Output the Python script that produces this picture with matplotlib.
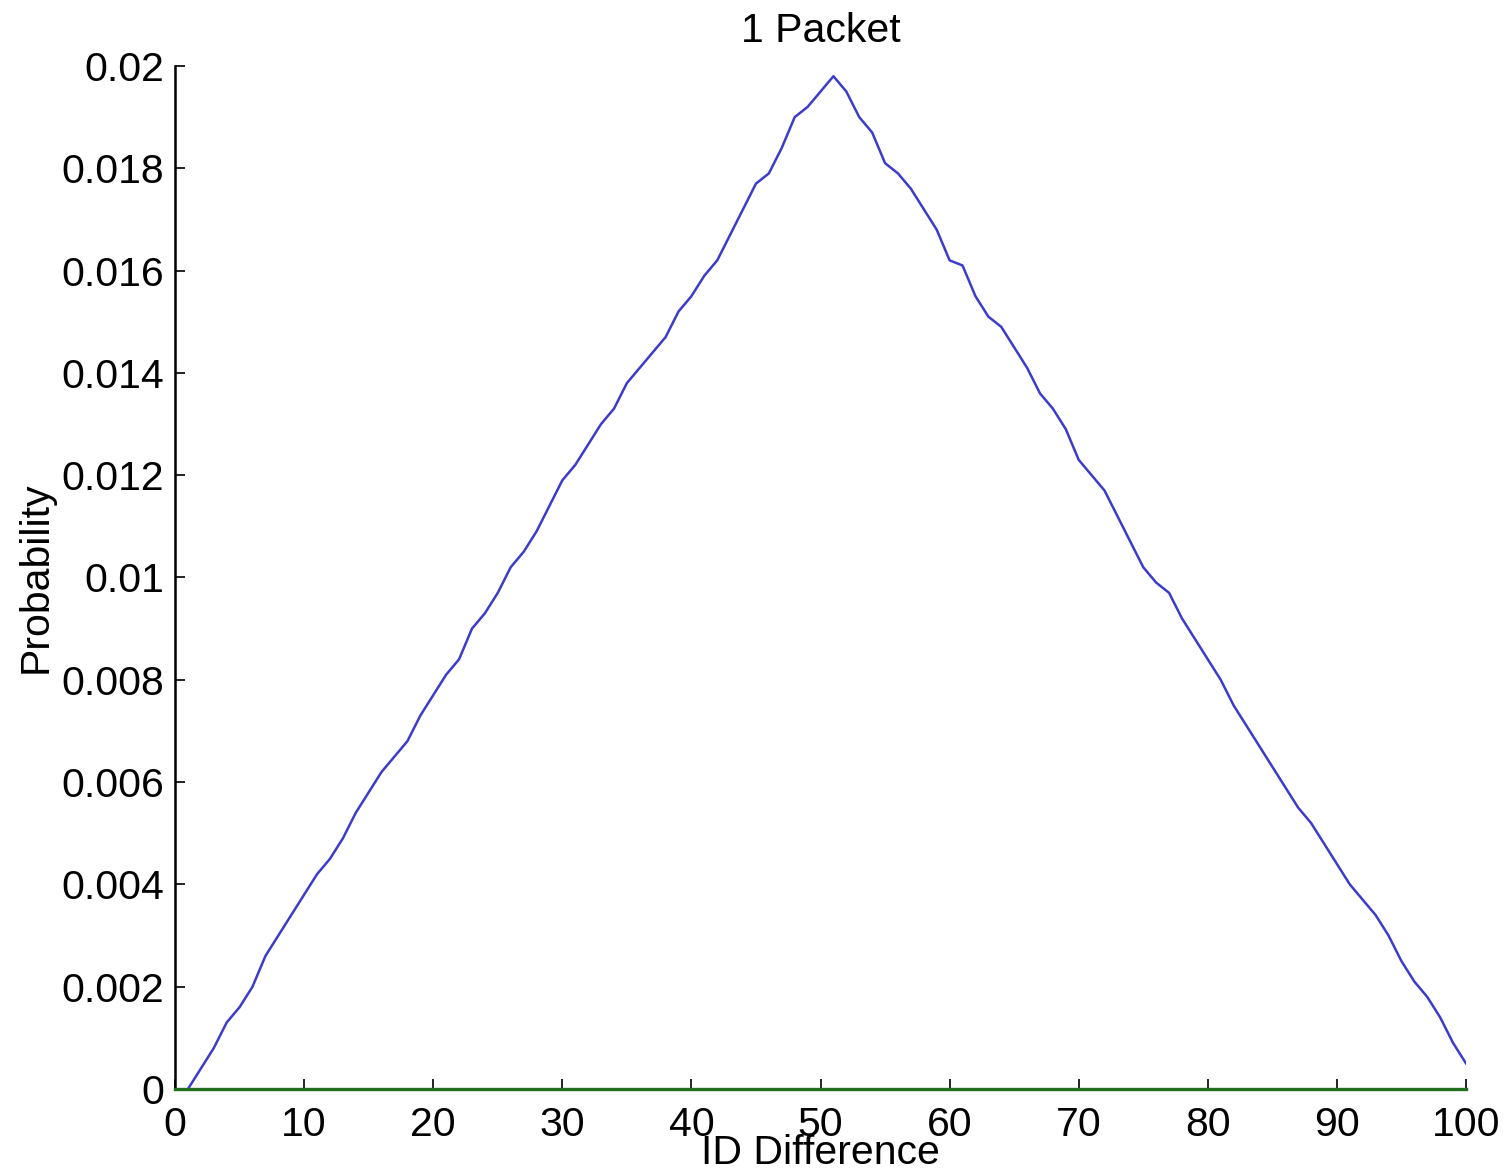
import numpy as np
import matplotlib
matplotlib.use("Agg")
import matplotlib.pyplot as plt

# =========================
# Data
# =========================
id_diff = list(range(1, 101))
probability = [
    0.0000, 0.0004, 0.0008, 0.0013, 0.0016, 0.0020, 0.0026, 0.0030, 0.0034, 0.0038,
    0.0042, 0.0045, 0.0049, 0.0054, 0.0058, 0.0062, 0.0065, 0.0068, 0.0073, 0.0077,
    0.0081, 0.0084, 0.0090, 0.0093, 0.0097, 0.0102, 0.0105, 0.0109, 0.0114, 0.0119,
    0.0122, 0.0126, 0.0130, 0.0133, 0.0138, 0.0141, 0.0144, 0.0147, 0.0152, 0.0155,
    0.0159, 0.0162, 0.0167, 0.0172, 0.0177, 0.0179, 0.0184, 0.0190, 0.0192, 0.0195,
    0.0198, 0.0195, 0.0190, 0.0187, 0.0181, 0.0179, 0.0176, 0.0172, 0.0168, 0.0162,
    0.0161, 0.0155, 0.0151, 0.0149, 0.0145, 0.0141, 0.0136, 0.0133, 0.0129, 0.0123,
    0.0120, 0.0117, 0.0112, 0.0107, 0.0102, 0.0099, 0.0097, 0.0092, 0.0088, 0.0084,
    0.0080, 0.0075, 0.0071, 0.0067, 0.0063, 0.0059, 0.0055, 0.0052, 0.0048, 0.0044,
    0.0040, 0.0037, 0.0034, 0.0030, 0.0025, 0.0021, 0.0018, 0.0014, 0.0009, 0.0005,
]

baseline_x = [0, 100]
baseline_y = [0, 0]

x_ticks = [0, 10, 20, 30, 40, 50, 60, 70, 80, 90, 100]
y_ticks = [0, 0.002, 0.004, 0.006, 0.008, 0.01, 0.012, 0.014, 0.016, 0.018, 0.02]
y_tick_labels = ["0", "0.002", "0.004", "0.006", "0.008", "0.01",
                 "0.012", "0.014", "0.016", "0.018", "0.02"]

# =========================
# Style
# =========================
plt.rcParams.update({
    "font.family": ["Liberation Sans", "DejaVu Sans"],
    "font.size": 29.5,
})

fig = plt.figure(figsize=(15.09, 11.74), dpi=100)
ax = fig.add_axes([0.116, 0.0724, 0.8555, 0.8714])

ax.plot(id_diff, probability, color="#3c3ccc", linewidth=1.8)
ax.plot(baseline_x, baseline_y, color="#1e6e1e", linewidth=2.4, clip_on=False, zorder=3)

ax.set_xlim(0, 100)
ax.set_ylim(0, 0.02)
ax.set_xticks(x_ticks)
ax.set_xticklabels([str(t) for t in x_ticks])
ax.set_yticks(y_ticks)
ax.set_yticklabels(y_tick_labels)

ax.spines["top"].set_visible(False)
ax.spines["right"].set_visible(False)
ax.spines["left"].set_linewidth(1.8)
ax.spines["bottom"].set_linewidth(1.8)

ax.tick_params(axis="both", direction="in", length=7, width=1.4, color="#222222")
ax.tick_params(axis="y", pad=8)
ax.tick_params(axis="x", pad=12)

ax.set_title("1 Packet", fontsize=29.5, pad=17)
ax.set_xlabel("ID Difference", fontsize=29.5, labelpad=-7)
ax.set_ylabel("Probability", fontsize=29.5)
ax.yaxis.set_label_coords(-0.093, 0.5)

fig.savefig("out.png", dpi=100)
plt.close(fig)
